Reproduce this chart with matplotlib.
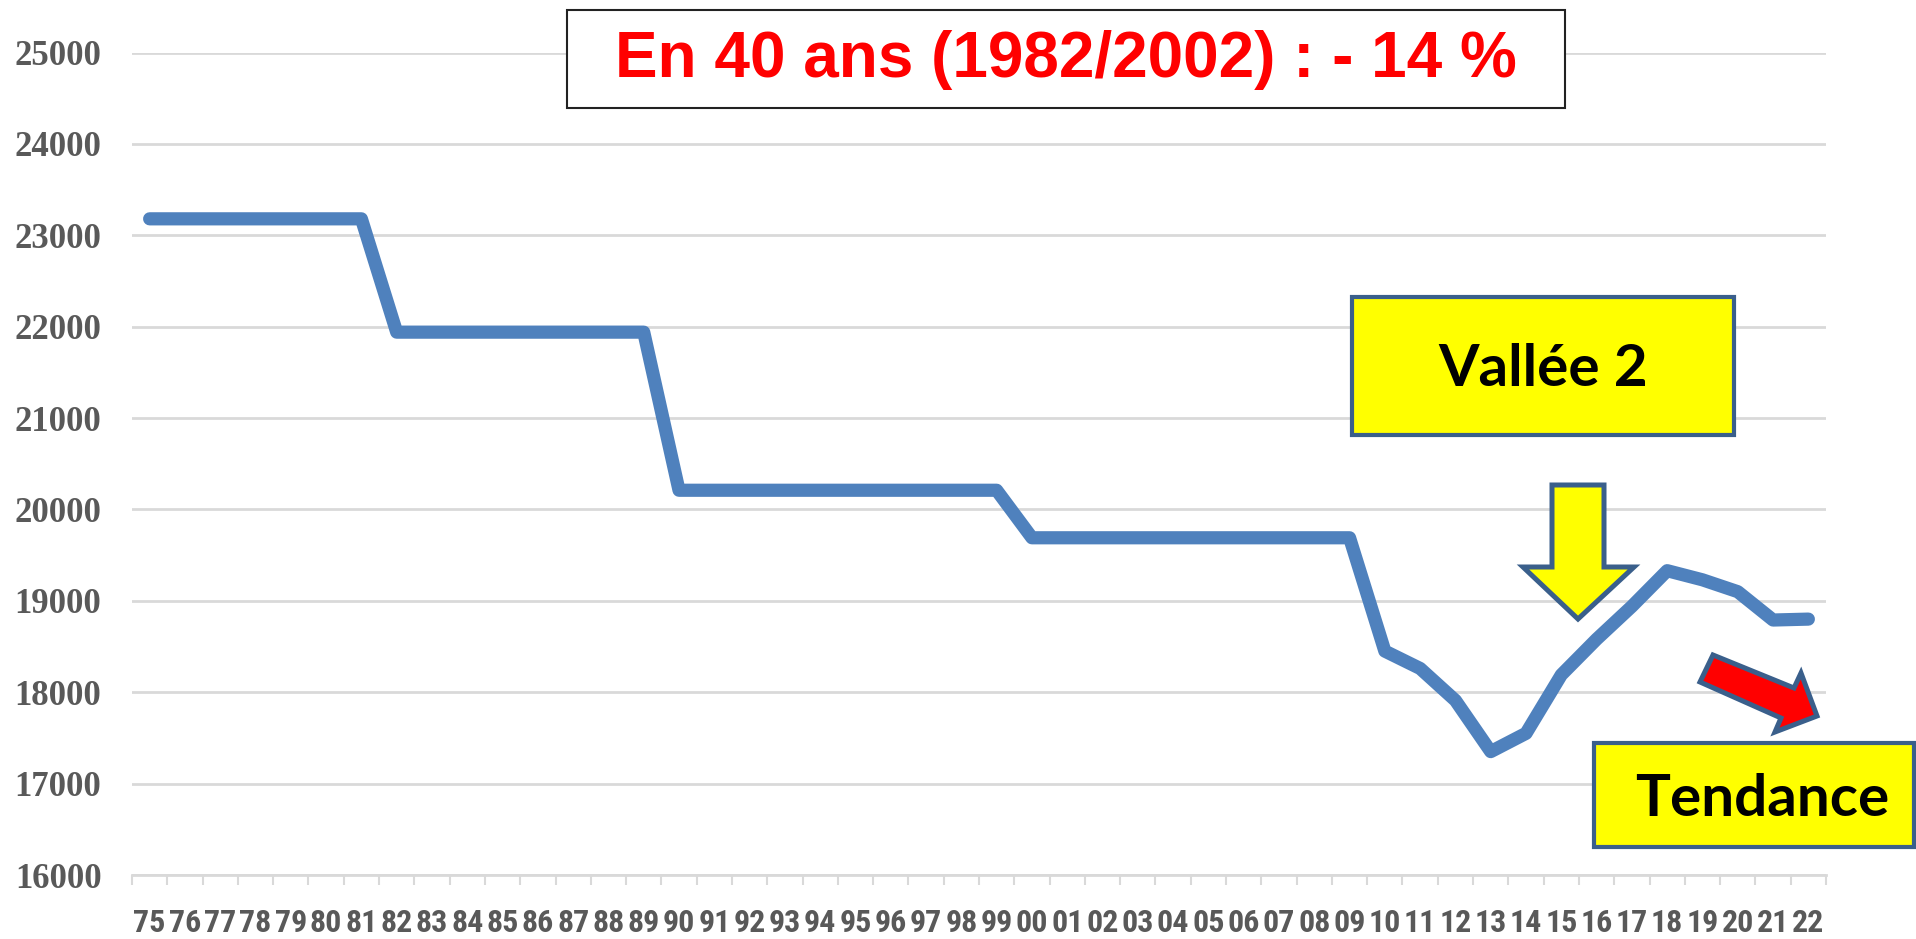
import numpy as np
import matplotlib.pyplot as plt
from matplotlib.patches import Rectangle, Polygon

# Data
years = ['75', '76', '77', '78', '79', '80', '81', '82', '83', '84', '85', '86',
         '87', '88', '89', '90', '91', '92', '93', '94', '95', '96', '97', '98',
         '99', '00', '01', '02', '03', '04', '05', '06', '07', '08', '09', '10',
         '11', '12', '13', '14', '15', '16', '17', '18', '19', '20', '21', '22']
values = [23180, 23180, 23180, 23180, 23180, 23180, 23180,
          21940, 21940, 21940, 21940, 21940, 21940, 21940, 21940,
          20210, 20210, 20210, 20210, 20210, 20210, 20210, 20210, 20210, 20210,
          19690, 19690, 19690, 19690, 19690, 19690, 19690, 19690, 19690, 19690,
          18450, 18260, 17910, 17350, 17550, 18190, 18580, 18940, 19330, 19230,
          19100, 18790, 18800]
y_ticks = [16000, 17000, 18000, 19000, 20000, 21000, 22000, 23000, 24000, 25000]

title_text = 'En 40 ans (1982/2002) : - 14 %'
label_valley = 'Vallée 2'
label_trend = 'Tendance'

W, H = 1916, 939


def fx(x):
    return x / W


def fy(y):
    return 1 - y / H


fig = plt.figure(figsize=(W / 100, H / 100), dpi=100)
ax = fig.add_axes([fx(132), fy(875), fx(1826 - 132), (875 - 52.5) / H])

x = np.arange(len(years))
ax.plot(x, values, color='#4F81BD', lw=9.5, solid_capstyle='round',
        solid_joinstyle='round', zorder=3)

ax.set_xlim(-0.5, len(years) - 0.5)
ax.set_ylim(16000, 25000)
ax.set_yticks(y_ticks)
ax.set_yticklabels([str(v) for v in y_ticks])
ax.grid(axis='y', color='#D9D9D9', lw=2)
ax.set_axisbelow(True)

# category axis: ticks on boundaries, labels centred
ax.set_xticks(np.arange(len(years) + 1) - 0.5, minor=False)
ax.set_xticklabels([])
ax.set_xticks(x, minor=True)
ax.set_xticklabels(years, minor=True)
ax.tick_params(axis='x', which='major', length=7.5, width=1.5, color='#D9D9D9')
ax.tick_params(axis='x', which='minor', length=0, pad=24, colors='#595959')
ax.tick_params(axis='y', length=0, pad=22, colors='#595959')

narrow = ['Liberation Sans Narrow', 'Roboto Condensed', 'Open Sans Condensed',
          'DejaVu Sans Condensed', 'Liberation Sans']
for lab in ax.get_xticklabels(minor=True):
    lab.set_family(narrow)
    lab.set_fontweight('bold')
    lab.set_fontsize(23)
for lab in ax.get_yticklabels():
    lab.set_family('Liberation Serif')
    lab.set_fontweight('bold')
    lab.set_fontsize(25)

for s in ['top', 'right', 'left']:
    ax.spines[s].set_visible(False)
ax.spines['bottom'].set_color('#D9D9D9')
ax.spines['bottom'].set_linewidth(2)

# title box
fig.patches.append(Rectangle((fx(567), fy(108)), fx(1565 - 567), (108 - 10) / H,
                             transform=fig.transFigure, facecolor='white',
                             edgecolor='#222222', lw=1.5, zorder=5))
fig.text(fx(1066), fy(60), title_text, ha='center', va='center', color='#FF0000',
         fontsize=46, fontweight='bold', family='Liberation Sans', zorder=6)

edge = '#3A5F8B'

# Vallée 2 box
fig.patches.append(Rectangle((fx(1352), fy(435)), fx(1734 - 1352), (435 - 297) / H,
                             transform=fig.transFigure, facecolor='#FFFF00',
                             edgecolor=edge, lw=3, zorder=5))
fig.text(fx(1543), fy(370), label_valley, ha='center', va='center', color='black',
         fontsize=42, fontweight='bold', family='Lato', zorder=6)

# Tendance box
fig.patches.append(Rectangle((fx(1594), fy(847)), fx(1914 - 1594), (847 - 743) / H,
                             transform=fig.transFigure, facecolor='#FFFF00',
                             edgecolor=edge, lw=3, zorder=5))
fig.text(fx(1762), fy(799), label_trend, ha='center', va='center', color='black',
         fontsize=42, fontweight='bold', family='Lato', zorder=6)

# yellow down arrow
down = [(1552, 485), (1604, 485), (1604, 567), (1634, 567), (1578, 619),
        (1523, 567), (1552, 567)]
fig.patches.append(Polygon([(fx(a), fy(b)) for a, b in down], closed=True,
                           transform=fig.transFigure, facecolor='#FFFF00',
                           edgecolor=edge, lw=3.6, zorder=5))

# red trend arrow
red = [(1713, 655), (1794, 688), (1801, 673), (1817, 716), (1775, 732),
       (1781, 718), (1700, 682)]
fig.patches.append(Polygon([(fx(a), fy(b)) for a, b in red], closed=True,
                           transform=fig.transFigure, facecolor='#FF0000',
                           edgecolor=edge, lw=3.6, zorder=5))

fig.savefig('out.png', dpi=100)
